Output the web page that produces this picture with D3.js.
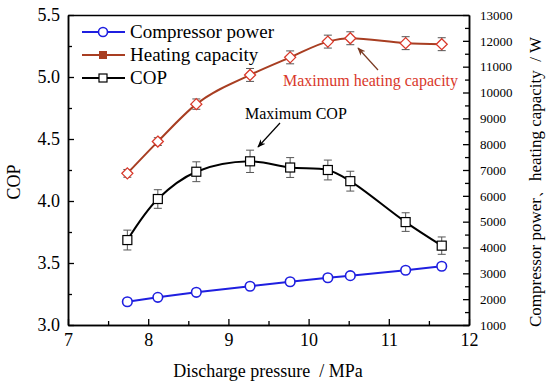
<!DOCTYPE html>
<html><head><meta charset="utf-8">
<script src="https://cdn.jsdelivr.net/npm/d3@7"></script>
<style>body{margin:0;background:#fff}svg{display:block}text{font-family:"Liberation Serif","Times New Roman","DejaVu Serif",serif;white-space:pre}</style>
</head><body><svg id="c" width="550" height="387"></svg>
<script>
const pressure = [7.74, 8.12, 8.60, 9.27, 9.77, 10.24, 10.52, 11.21, 11.66];
const cop = [3.685, 4.016, 4.236, 4.32, 4.27, 4.25, 4.16, 3.83, 3.64];
const copErr = [0.08, 0.075, 0.08, 0.09, 0.08, 0.08, 0.08, 0.075, 0.07];
const compressorPower = [1900, 2070, 2265, 2500, 2675, 2830, 2910, 3120, 3275];
const powerErr = [80, 80, 90, 100, 100, 100, 100, 100, 100];
const heatingCapacity = [6870, 8100, 9550, 10680, 11360, 11970, 12100, 11910, 11870];
const heatErr = [150, 150, 200, 250, 250, 250, 250, 250, 250];
const xTicks = [7, 8, 9, 10, 11, 12];
const copTicks = [3.0, 3.5, 4.0, 4.5, 5.0, 5.5];
const wTicks = [1000,2000,3000,4000,5000,6000,7000,8000,9000,10000,11000,12000,13000];

const svg = d3.select("#c");
const L = 68, R = 469, T = 15, B = 325;
const x = d3.scaleLinear().domain([7, 12]).range([L, R]);
const yL = d3.scaleLinear().domain([3.0, 5.5]).range([B, T]);
const yR = d3.scaleLinear().domain([1000, 13000]).range([B, T]);

const blue = "#1f1fe0", brown = "#a83e22", red = "#d9382a", black = "#000";
const FF = '"Liberation Serif","Times New Roman","DejaVu Serif",serif';

// Axes
const gx = svg.append("g").attr("transform", `translate(0,${B})`)
  .call(d3.axisBottom(x).tickValues(xTicks).tickFormat(d3.format("d")).tickSizeInner(-6).tickSizeOuter(0).tickPadding(8));
const gxm = svg.append("g").attr("transform", `translate(0,${B})`)
  .call(d3.axisBottom(x).tickValues(d3.range(7.5, 12, 1)).tickFormat("").tickSizeInner(-4).tickSizeOuter(0));
const gl = svg.append("g").attr("transform", `translate(${L},0)`)
  .call(d3.axisLeft(yL).tickValues(copTicks).tickFormat(d3.format(".1f")).tickSizeInner(-6).tickSizeOuter(0).tickPadding(8));
const glm = svg.append("g").attr("transform", `translate(${L},0)`)
  .call(d3.axisLeft(yL).tickValues(d3.range(3.25, 5.5, 0.5)).tickFormat("").tickSizeInner(-4).tickSizeOuter(0));
const gr = svg.append("g").attr("transform", `translate(${R},0)`)
  .call(d3.axisRight(yR).tickValues(wTicks).tickFormat(d3.format("d")).tickSizeInner(-6).tickSizeOuter(0).tickPadding(11));
const grm = svg.append("g").attr("transform", `translate(${R},0)`)
  .call(d3.axisRight(yR).tickValues(d3.range(1500, 13000, 1000)).tickFormat("").tickSizeInner(-4).tickSizeOuter(0));
const gt = svg.append("g").attr("transform", `translate(0,${T})`)
  .call(d3.axisTop(x).tickValues([]).tickSizeOuter(0));
[gx, gxm, gl, glm, gr, grm, gt].forEach(g => {
  g.attr("font-family", FF);
  g.selectAll("path.domain").attr("stroke", black).attr("stroke-width", 1.5);
  g.selectAll(".tick line").attr("stroke", black).attr("stroke-width", 1.3);
  g.selectAll("text").attr("fill", black).style("font-family", FF);
});
gx.selectAll("text").style("font-size", "18px");
gl.selectAll("text").style("font-size", "18px");
gr.selectAll("text").style("font-size", "13px");

// Axis titles
svg.append("text").attr("x", 268).attr("y", 377).attr("text-anchor", "middle")
  .style("font-size", "18px").text("Discharge pressure  / MPa");
svg.append("text").attr("transform", "translate(20,182) rotate(-90)").attr("text-anchor", "middle")
  .style("font-size", "18px").text("COP");
svg.append("text").attr("transform", "translate(541,182) rotate(-90)").attr("text-anchor", "middle")
  .style("font-size", "17px").text("Compressor power、heating capacity  / W");

// Error bars helper
function errBars(vals, errs, y) {
  const g = svg.append("g").attr("stroke", "#555").attr("stroke-width", 1).attr("fill", "none");
  pressure.forEach((p, i) => {
    const cx = x(p), y1 = y(vals[i] - errs[i]), y2 = y(vals[i] + errs[i]);
    g.append("line").attr("x1", cx).attr("x2", cx).attr("y1", y1).attr("y2", y2);
    g.append("line").attr("x1", cx - 4).attr("x2", cx + 4).attr("y1", y1).attr("y2", y1);
    g.append("line").attr("x1", cx - 4).attr("x2", cx + 4).attr("y1", y2).attr("y2", y2);
  });
}

// Heating capacity
errBars(heatingCapacity, heatErr, yR);
svg.append("path").datum(heatingCapacity)
  .attr("d", d3.line().x((d, i) => x(pressure[i])).y(d => yR(d)).curve(d3.curveMonotoneX))
  .attr("fill", "none").attr("stroke", brown).attr("stroke-width", 2);
svg.append("g").selectAll("path").data(heatingCapacity).join("path")
  .attr("transform", (d, i) => `translate(${x(pressure[i])},${yR(d)})`)
  .attr("d", "M0,-5.5L5.5,0L0,5.5L-5.5,0Z")
  .attr("fill", "#fff").attr("stroke", red).attr("stroke-width", 1.3);

// COP
errBars(cop, copErr, yL);
svg.append("path").datum(cop)
  .attr("d", d3.line().x((d, i) => x(pressure[i])).y(d => yL(d)).curve(d3.curveCatmullRom.alpha(0.5)))
  .attr("fill", "none").attr("stroke", black).attr("stroke-width", 2);
svg.append("g").selectAll("rect").data(cop).join("rect")
  .attr("x", (d, i) => x(pressure[i]) - 4.5).attr("y", d => yL(d) - 4.5)
  .attr("width", 9).attr("height", 9)
  .attr("fill", "#fff").attr("stroke", black).attr("stroke-width", 1.2);

// Compressor power
errBars(compressorPower, powerErr, yR);
svg.append("path").datum(compressorPower)
  .attr("d", d3.line().x((d, i) => x(pressure[i])).y(d => yR(d)))
  .attr("fill", "none").attr("stroke", blue).attr("stroke-width", 2);
svg.append("g").selectAll("circle").data(compressorPower).join("circle")
  .attr("cx", (d, i) => x(pressure[i])).attr("cy", d => yR(d)).attr("r", 4.8)
  .attr("fill", "#fff").attr("stroke", blue).attr("stroke-width", 1.6);

// Legend
const leg = svg.append("g");
const legendItems = ["Compressor power", "Heating capacity", "COP"];
const legY = [32, 55, 78];
legendItems.forEach((name, i) => {
  const yy = legY[i];
  const col = [blue, brown, black][i];
  leg.append("line").attr("x1", 82).attr("x2", 125).attr("y1", yy).attr("y2", yy)
    .attr("stroke", col).attr("stroke-width", 2);
  if (i === 0) leg.append("circle").attr("cx", 103).attr("cy", yy).attr("r", 4.5)
    .attr("fill", "#fff").attr("stroke", blue).attr("stroke-width", 1.6);
  if (i === 1) leg.append("rect").attr("x", 99).attr("y", yy - 4).attr("width", 8).attr("height", 8)
    .attr("fill", brown);
  if (i === 2) leg.append("rect").attr("x", 99).attr("y", yy - 4).attr("width", 8).attr("height", 8)
    .attr("fill", "#fff").attr("stroke", black).attr("stroke-width", 1.2);
  leg.append("text").attr("x", 130).attr("y", yy + 6).style("font-size", "19px").text(name);
});

// Annotations
const defs = svg.append("defs");
function marker(id, col) {
  defs.append("marker").attr("id", id).attr("viewBox", "0 0 10 10").attr("refX", 9).attr("refY", 5)
    .attr("markerWidth", 7).attr("markerHeight", 7).attr("orient", "auto")
    .append("path").attr("d", "M0,1L10,5L0,9L3,5Z").attr("fill", col);
}
marker("ah1", "#7a3a22"); marker("ah2", black);
svg.append("line").attr("x1", 378).attr("y1", 70).attr("x2", 358).attr("y2", 48)
  .attr("stroke", "#7a3a22").attr("stroke-width", 1.2).attr("marker-end", "url(#ah1)");
svg.append("text").attr("x", 283).attr("y", 86).attr("fill", red).style("font-size", "16px")
  .text("Maximum heating capacity");
svg.append("text").attr("x", 245).attr("y", 119).attr("fill", black).style("font-size", "16px")
  .text("Maximum COP");
svg.append("line").attr("x1", 280).attr("y1", 123).attr("x2", 258).attr("y2", 147)
  .attr("stroke", black).attr("stroke-width", 1.2).attr("marker-end", "url(#ah2)");
</script></body></html>
